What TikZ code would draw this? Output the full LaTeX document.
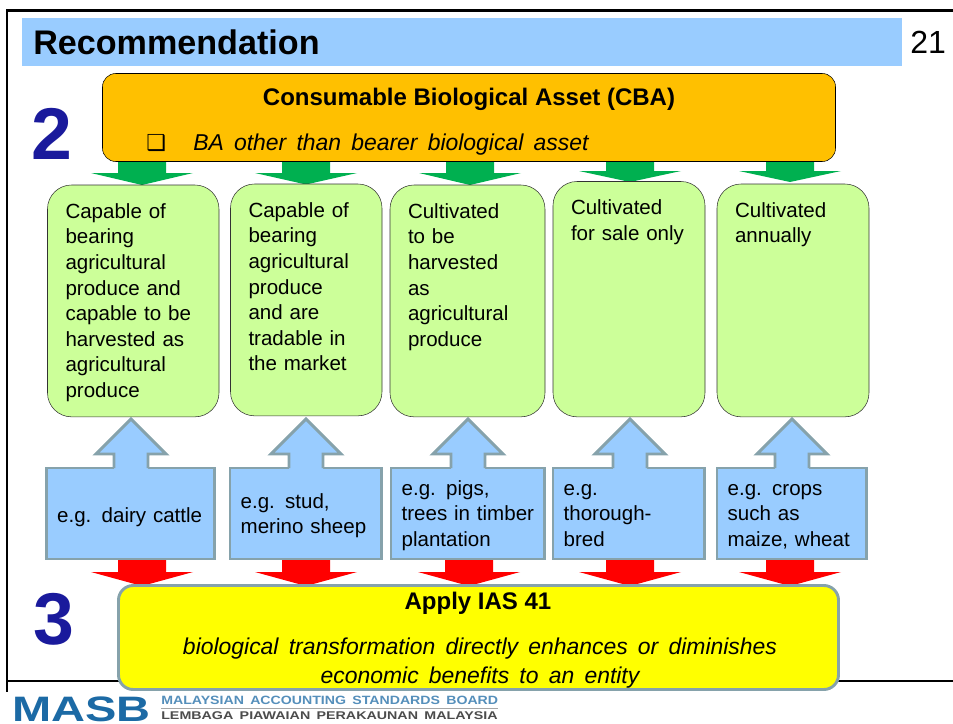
\documentclass[tikz,border=0pt]{standalone}
\usepackage{xcolor}
\usepackage{graphicx}
\usepackage{fontspec}
\setmainfont[WordSpace=1.6]{Liberation Sans}
\newfontfamily\symfont{DejaVu Sans}
\newfontfamily\headfont{Liberation Sans}
\usepackage{tikz}
\usetikzlibrary{positioning}
\definecolor{bannerblue}{HTML}{99CCFF}
\definecolor{cbaorange}{HTML}{FFC000}
\definecolor{arrowgreen}{HTML}{00B050}
\definecolor{leafgreen}{HTML}{CCFF99}
\definecolor{slateedge}{HTML}{86A2AB}
\definecolor{numberblue}{HTML}{1A1A9C}
\definecolor{masbblue}{HTML}{1C6AA5}
\definecolor{iasyellow}{HTML}{FFFF00}
\definecolor{arrowred}{HTML}{FF0000}

\tikzset{
    bodytext/.style={font=\fontsize{15.4}{19.2}\selectfont},
    greenbox/.style 2 args={draw=black!80, fill=leafgreen, rounded corners=18pt, anchor=north west,
        outer sep=0pt, inner xsep=13.5pt, inner ysep=0pt, align=left, bodytext,
        text width={(#1-36)*0.75pt}, text height=25pt, text depth={(#2-33.5)*0.75pt}},
    bluebox/.style n args={3}{draw=slateedge, line width=2.2pt, fill=bannerblue, anchor=north west,
        outer sep=0pt, inner xsep=8pt, inner ysep=0pt, align=left, bodytext,
        text width={(#1-21.5)*0.75pt}, text height={#3*0.75pt}, text depth={(#2-#3)*0.75pt}},
    bignumber/.style={font=\fontsize{55}{55}\selectfont\bfseries, text=numberblue, anchor=base west, inner sep=0pt},
    headtext/.style={font=\headfont\fontsize{18}{20}\selectfont\bfseries, inner sep=0pt, anchor=base},
    notetext/.style={font=\fontsize{17.2}{21.7}\selectfont\itshape, inner sep=0pt},
    board/.style={inner sep=0pt, anchor=base west}
}

\begin{document}
\begin{tikzpicture}[x=0.75pt, y=-0.75pt]
\useasboundingbox (0,0) rectangle (953,724);

% slide frame
\draw[line width=2pt] (953,10.5) -- (7,10.5) -- (7,693);
\draw[line width=0.8pt] (7,681) -- (953,681);
\fill[bannerblue] (22,18) rectangle (902,66);
\node[font=\fontsize{25.6}{30}\selectfont\bfseries, anchor=base west, inner sep=0pt] (title) at (33,55) {Recommendation};
\node[font=\fontsize{24}{28}\selectfont, anchor=base west, inner sep=0pt] (pageno) at (910,54) {21};

\node[bignumber] (two) at (31,159) {2};
\node[bignumber] (three) at (33,644) {3};

% green arrows
\foreach \x/\shoulder/\tip in {142/173/185, 306/173/184.5, 470/173/185, 630/171/182, 790/171/182}
    \fill[arrowgreen] (\x-24,160) -- (\x+24,160) -- (\x+24,\shoulder) -- (\x+51,\shoulder) -- (\x,\tip) -- (\x-51,\shoulder) -- (\x-24,\shoulder) -- cycle;

% red arrows
\foreach \x in {142,306,469,630,790}
    \fill[arrowred] (\x-24,560) -- (\x+24,560) -- (\x+24,572) -- (\x+51,572) -- (\x,586) -- (\x-51,572) -- (\x-24,572) -- cycle;

\node[draw=black, fill=cbaorange, rounded corners=10pt, outer sep=0pt, anchor=north west, minimum width=733*0.75pt, minimum height=88*0.75pt] (cba) at (102.5,73.5) {};
\node[headtext] (cbahead) at (469,105) {Consumable Biological Asset (CBA)};
\node[font=\symfont\fontsize{16.5}{16.5}\selectfont, anchor=base west, inner sep=0pt] (cbabullet) at (146,150) {❑};
\node[notetext, anchor=base west] (cbanote) at (193,150) {BA other than bearer biological asset};

\node[greenbox={171.5}{232}] (g1) at (47.5,185) {Capable of\\bearing\\agricultural\\produce and\\capable to be\\harvested as\\agricultural\\produce};
\node[greenbox={151.5}{232}] (g2) at (230.5,184) {Capable of\\bearing\\agricultural\\produce\\and are\\tradable in\\the market};
\node[greenbox={155}{232}] (g3) at (390,185) {Cultivated\\to be\\harvested\\as\\agricultural\\produce};
\node[greenbox={152}{235.5}] (g4) at (553,181.5) {Cultivated\\for sale only};
\node[greenbox={152}{233}] (g5) at (717,184) {Cultivated\\annually};

\node[bluebox={168.5}{91}{54}] (b1) at (46.5,468) {e.g. dairy cattle};
\node[bluebox={152}{91}{40}] (b2) at (230,468) {e.g. stud,\\merino sheep};
\node[bluebox={154}{91}{27}] (b3) at (391,468) {e.g. pigs,\\trees in timber\\plantation};
\node[bluebox={152}{91}{27}] (b4) at (553,468) {e.g.\\thorough-\\bred};
\node[bluebox={150}{91}{27}] (b5) at (717,468) {e.g. crops\\such as\\maize, wheat};

% blue arrows
\foreach \x in {131,306,468,630,792} {
    \fill[bannerblue] (\x-17,470) -- (\x-17,454) -- (\x-35,454) -- (\x,419) -- (\x+35,454) -- (\x+17,454) -- (\x+17,470) -- cycle;
    \draw[slateedge, line width=2.2pt, line join=miter] (\x-17,468) -- (\x-17,454) -- (\x-35,454) -- (\x,419) -- (\x+35,454) -- (\x+17,454) -- (\x+17,468);
}

\node[draw=slateedge, line width=2.2pt, fill=iasyellow, rounded corners=11pt, outer sep=0pt, anchor=north west, minimum width=720*0.75pt, minimum height=104*0.75pt] (ias) at (118.5,585.5) {};
\node[headtext] (iashead) at (478,609) {Apply IAS 41};
\node[notetext, anchor=base] (iasnote) at (480,654) {biological transformation directly enhances or diminishes};
\node[notetext, anchor=base] (iasnote2) at (480,683) {economic benefits to an entity};

% logo
\fill[white] (0,692) rectangle (520,724);
\node[font=\fontsize{26.5}{26.5}\selectfont\bfseries, text=masbblue, anchor=base west, inner sep=0pt] (masb) at (12,721) {\scalebox{1.33}[1]{MASB}};
\node[board, font=\fontsize{9}{10}\selectfont\bfseries, text=masbblue!75] (boarden) at (161,704) {\scalebox{1.178}[1]{MALAYSIAN ACCOUNTING STANDARDS BOARD}};
\node[board, font=\fontsize{8.4}{9}\selectfont\bfseries, text=black!70] (boardms) at (161,719) {\scalebox{1.274}[1]{LEMBAGA PIAWAIAN PERAKAUNAN MALAYSIA}};
\draw[black!35, line width=0.6pt] (161,708) -- (498,708);
\end{tikzpicture}
\end{document}
